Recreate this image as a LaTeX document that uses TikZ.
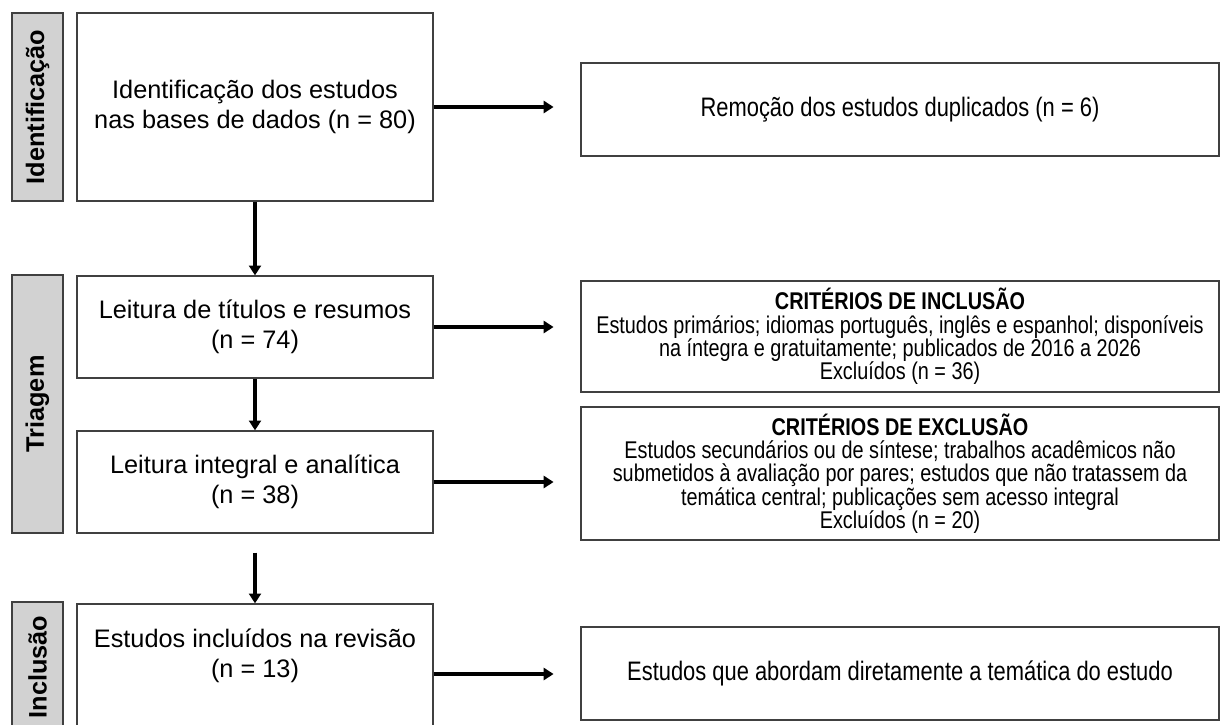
\documentclass[tikz,border=0pt]{standalone}
\usepackage{fontspec}
\setmainfont{Liberation Sans}
\newfontfamily\estreita[FakeStretch=0.82]{Liberation Sans}
\usepackage{tikz}
\usetikzlibrary{positioning,arrows.meta,calc}

\begin{document}
\begin{tikzpicture}[
  x=0.025cm, y=-0.025cm,
  etapa/.style={
    draw=black!75, line width=0.9pt, fill=gray!35, rotate=90,
    minimum height=1.275cm, inner sep=0pt,
    font=\fontsize{18}{21.5}\selectfont\bfseries
  },
  caixa/.style={
    draw=black!75, line width=0.9pt, minimum width=8.9cm,
    align=center, inner sep=0pt,
    font=\fontsize{18}{21.5}\selectfont
  },
  crit/.style={
    draw=black!75, line width=0.9pt, minimum width=15.95cm,
    align=center, inner sep=0pt,
    font=\estreita\fontsize{17.2}{16.6}\selectfont
  },
  fl/.style={->, >={Triangle[length=7pt,width=8.5pt]}, line width=2.4pt}
]
  \useasboundingbox (0,0) rectangle (1221,724);

  % --- Etapas ---
  \node[etapa, minimum width=4.7cm]  (id)  at (37.5,107) {Identificação};
  \node[etapa, minimum width=6.45cm] (tri) at (37.5,404) {Triagem};
  \node[etapa, minimum width=3.25cm] (inc) at (37.5,667) {Inclusão};

  % --- Fluxo principal ---
  \node[caixa, minimum height=4.7cm]  (ident)    at (255,107)
    {Identificação dos estudos\\nas bases de dados (n = 80)};
  \node[caixa, minimum height=2.55cm] (titulos)  at (255,327)
    {Leitura de títulos e resumos\\(n = 74)};
  \node[caixa, minimum height=2.55cm] (integral) at (255,482)
    {Leitura integral e analítica\\(n = 38)};
  \node[caixa, minimum height=3.5cm]  (incluidos) at (255,674) {};
  \node[align=center, font=\fontsize{18}{21.5}\selectfont] (incluidos-txt)
    at (255,656) {Estudos incluídos na revisão\\(n = 13)};

  % --- Caixas da direita ---
  \node[crit, minimum height=2.325cm, font=\estreita\fontsize{19}{20}\selectfont]
    (remocao) at (900,109.5) {Remoção dos estudos duplicados (n = 6)};
  \node[crit, minimum height=2.775cm] (inclusao)  at (900,336.5)
    {\textbf{CRITÉRIOS DE INCLUSÃO}\\
     Estudos primários; idiomas português, inglês e espanhol; disponíveis\\
     na íntegra e gratuitamente; publicados de 2016 a 2026\\
     Excluídos (n = 36)};
  \node[crit, minimum height=3.325cm] (exclusao)  at (900,473.5)
    {\textbf{CRITÉRIOS DE EXCLUSÃO}\\
     Estudos secundários ou de síntese; trabalhos acadêmicos não\\
     submetidos à avaliação por pares; estudos que não tratassem da\\
     temática central; publicações sem acesso integral\\
     Excluídos (n = 20)};
  \node[crit, minimum height=2.325cm, font=\estreita\fontsize{19}{20}\selectfont]
    (tematica) at (900,673.5) {Estudos que abordam diretamente a temática do estudo};

  % --- Setas ---
  \draw[fl] (ident.south) -- (titulos.north);
  \draw[fl] (titulos.south) -- (integral.north);
  \draw[fl, shorten <=13.5pt] (integral.south) -- (incluidos.north);

  \draw[fl, shorten >=19pt] (ident.east) -- (ident.east -| remocao.west);
  \draw[fl, shorten >=19pt] (titulos.east) -- (titulos.east -| inclusao.west);
  \draw[fl, shorten >=19pt] (integral.east) -- (integral.east -| exclusao.west);
  \draw[fl, shorten >=19pt] (incluidos.east) -- (incluidos.east -| tematica.west);

\end{tikzpicture}
\end{document}
